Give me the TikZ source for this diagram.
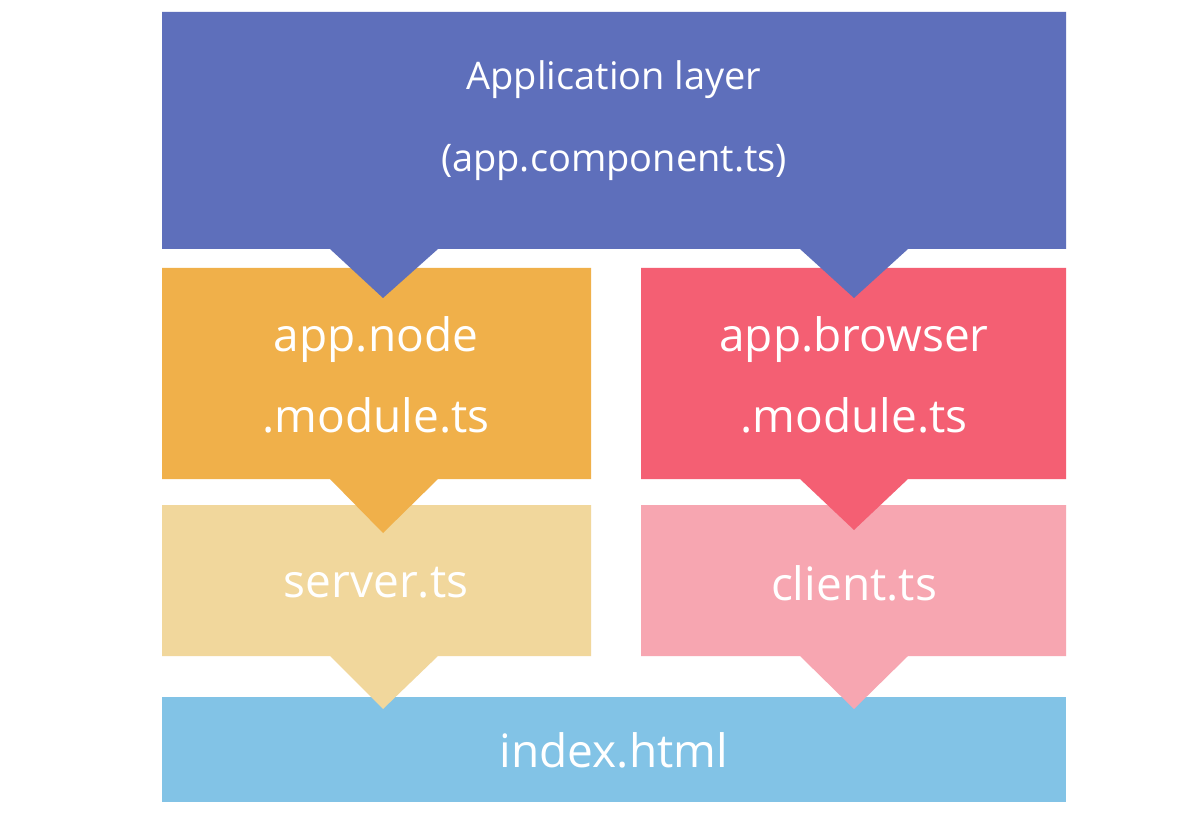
\documentclass[tikz,border=0pt]{standalone}
\usepackage{fontspec}
\setmainfont{Open Sans}
\definecolor{cTop}{HTML}{5E6FBB}
\definecolor{cOr}{HTML}{F0B04A}
\definecolor{cRed}{HTML}{F45F73}
\definecolor{cSrv}{HTML}{F1D79C}
\definecolor{cCli}{HTML}{F7A6B1}
\definecolor{cIdx}{HTML}{82C3E6}
\begin{document}
\begin{tikzpicture}[x=1pt,y=-1pt,
  lbl/.style={text=white,font=\fontsize{46}{56}\selectfont,inner sep=0pt},
  lblS/.style={text=white,font=\fontsize{38}{46}\selectfont,inner sep=0pt}]
\useasboundingbox[fill=white] (0,0) rectangle (1200,826);
% bottom-up so tabs overlap lower boxes
\fill[cIdx] (162,697) rectangle (1066,802);
\fill[cSrv] (162,505) -- (591,505) -- (591,656) -- (438,656) -- (383,709) -- (330,656) -- (162,656) -- cycle;
\fill[cCli] (641,505) -- (1066,505) -- (1066,656) -- (908,656) -- (854,709) -- (800,656) -- (641,656) -- cycle;
\fill[cOr] (162,268) -- (591,268) -- (591,479) -- (438,479) -- (383,533) -- (330,479) -- (162,479) -- cycle;
\fill[cRed] (641,268) -- (1066,268) -- (1066,479) -- (908,479) -- (854,530) -- (800,479) -- (641,479) -- cycle;
\fill[cTop] (162,12) -- (1066,12) -- (1066,249) -- (908,249) -- (854,298) -- (800,249) -- (438,249) -- (383,298) -- (330,249) -- (162,249) -- cycle;
\node[lblS] (t1) at (614,80) {Application layer};
\node[lblS] (t2) at (614,163) {(app.component.ts)};
\node[lbl] (n1) at (376,340) {app.node};
\node[lbl] (n2) at (376,415) {.module.ts};
\node[lbl] (b1) at (854,340) {app.browser};
\node[lbl] (b2) at (854,415) {.module.ts};
\node[lbl] (s) at (376,583) {server.ts};
\node[lbl] (c) at (854,583) {client.ts};
\node[lbl] (i) at (614,750) {index.html};
\end{tikzpicture}
\end{document}
